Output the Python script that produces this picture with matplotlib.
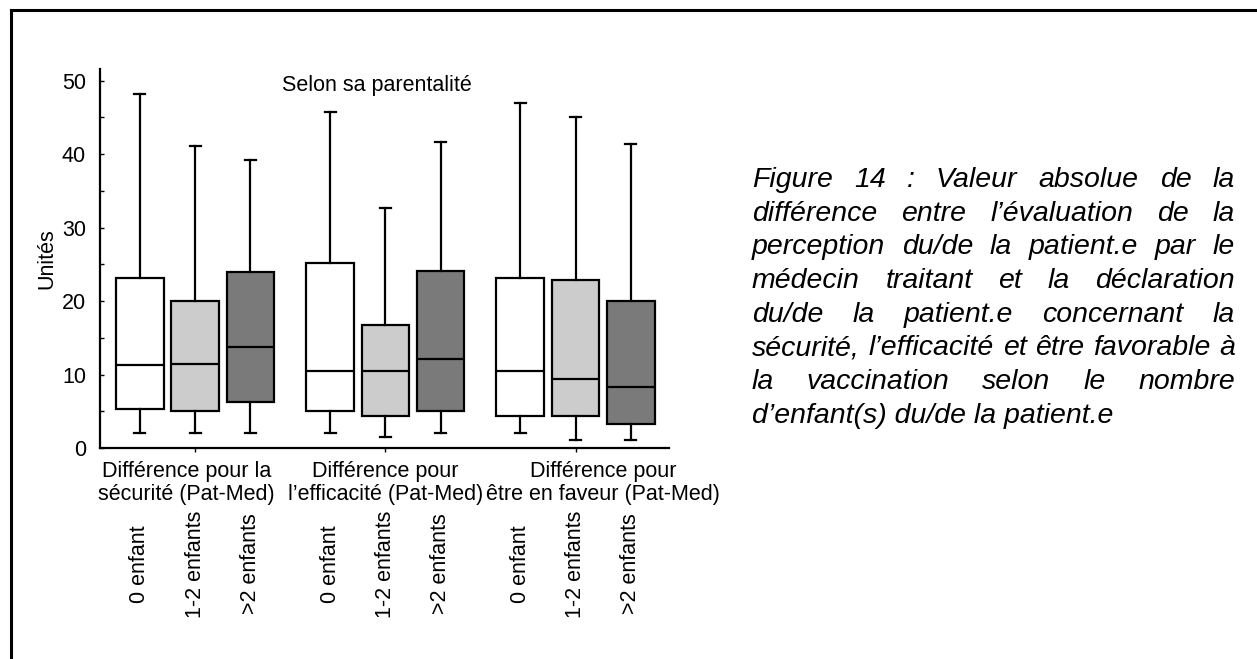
import matplotlib
matplotlib.use('Agg')
import matplotlib.pyplot as plt
import matplotlib.transforms as mtransforms
from matplotlib.lines import Line2D
from matplotlib.ticker import MultipleLocator

plt.rcParams['font.family'] = ['Liberation Sans', 'DejaVu Sans']

# data (Unités)
groups = ['Différence pour la\nsécurité (Pat-Med)',
          'Différence pour\nl’efficacité (Pat-Med)',
          'Différence pour\nêtre en faveur (Pat-Med)']
subgroups = ['0 enfant', '1-2 enfants', '>2 enfants']
box_colors = ['white', '#cccccc', '#7a7a7a']

whis_low = [2.1, 2.1, 2.1, 2.1, 1.55, 2.1, 2.1, 1.05, 1.05]
q1 = [5.35, 5.1, 6.2, 5.1, 4.3, 5.1, 4.3, 4.3, 3.2]
med = [11.3, 11.5, 13.8, 10.5, 10.5, 12.1, 10.5, 9.4, 8.3]
q3 = [23.2, 20.0, 24.0, 25.2, 16.7, 24.1, 23.2, 22.9, 20.0]
whis_high = [48.2, 41.1, 39.2, 45.7, 32.7, 41.7, 47.0, 45.1, 41.4]

caption_lines = [
    'Figure 14 : Valeur absolue de la',
    'différence entre l’évaluation de la',
    'perception du/de la patient.e par le',
    'médecin traitant et la déclaration',
    'du/de la patient.e concernant la',
    'sécurité, l’efficacité et être favorable à',
    'la vaccination selon le nombre',
    'd’enfant(s) du/de la patient.e',
]

W, H = 1257, 659
fig = plt.figure(figsize=(W / 100, H / 100), dpi=100)
ax = fig.add_axes([100 / W, 1 - 448 / H, (669 - 100) / W, (448 - 69) / H])

positions = []
for g in range(3):
    for k in range(3):
        positions.append(1 + g * 3.44 + k)

stats = []
for i in range(9):
    stats.append(dict(whislo=whis_low[i], q1=q1[i], med=med[i], q3=q3[i],
                      whishi=whis_high[i], fliers=[]))

lw = 1.6
bp = ax.bxp(stats, positions=positions, widths=0.86, capwidths=0.2,
            patch_artist=True, showfliers=False,
            boxprops=dict(linewidth=lw, edgecolor='black'),
            whiskerprops=dict(linewidth=lw, color='black'),
            capprops=dict(linewidth=lw, color='black'),
            medianprops=dict(linewidth=lw, color='black'))
for i, patch in enumerate(bp['boxes']):
    patch.set_facecolor(box_colors[i % 3])

ax.set_xlim(0.28, 10.57)
ax.set_ylim(0, 51.6)
for s in ['top', 'right']:
    ax.spines[s].set_visible(False)
for s in ['left', 'bottom']:
    ax.spines[s].set_linewidth(1.6)

group_centers = [sum(positions[g * 3:g * 3 + 3]) / 3 for g in range(3)]
ax.set_xticks(group_centers)
ax.set_xticklabels([])
ax.tick_params(axis='x', direction='out', length=3, width=1)
ax.set_yticks([0, 10, 20, 30, 40, 50])
ax.yaxis.set_minor_locator(MultipleLocator(5))
ax.tick_params(axis='y', which='both', direction='in', length=3, width=1,
               labelsize=15.5, pad=10)
ax.set_ylabel('Unités', fontsize=15.5, labelpad=3)

ax.text(377, 85, 'Selon sa parentalité',
        transform=mtransforms.Affine2D().scale(1, -1).translate(0, H),
        ha='center', va='center', fontsize=15.5)

# labels under the axis, x in data coords, y in figure fraction
blend = mtransforms.blended_transform_factory(ax.transData, fig.transFigure)
label_shift = [-0.16, 0.0, 0.5]
for g in range(3):
    # baseline of the last (second) line
    ax.text(group_centers[g] + label_shift[g], 1 - 500 / H, groups[g],
            transform=blend, ha='center', va='baseline', fontsize=15.5,
            linespacing=1.15, multialignment='center')
for i, p in enumerate(positions):
    ax.text(p, 1 - 564 / H, subgroups[i % 3], transform=blend, rotation=90,
            ha='center', va='center', fontsize=15.5)

# justified caption
renderer = fig.canvas.get_renderer()
cap_x0, cap_x1 = 752, 1235
cap_y0, cap_dy = 187, 33.7
cap_kw = dict(fontsize=20.5, style='italic', va='baseline', ha='left')
for i, line in enumerate(caption_lines):
    y = 1 - (cap_y0 + i * cap_dy) / H
    if i == len(caption_lines) - 1:
        fig.text(cap_x0 / W, y, line, **cap_kw)
        continue
    words = line.split()
    txts = [fig.text(0, y, w, **cap_kw) for w in words]
    widths = [t.get_window_extent(renderer).width for t in txts]
    gap = (cap_x1 - cap_x0 - sum(widths)) / (len(words) - 1)
    x = cap_x0
    for t, w in zip(txts, widths):
        t.set_x(x / W)
        x += w + gap

# page frame (only top and left edges are visible)
fig.add_artist(Line2D([11 / W, 11 / W], [0, 1 - 10 / H], transform=fig.transFigure,
                      color='black', linewidth=2.2))
fig.add_artist(Line2D([11 / W, 1], [1 - 10 / H, 1 - 10 / H], transform=fig.transFigure,
                      color='black', linewidth=2.2))

fig.savefig('out.png', dpi=100)
plt.close(fig)
